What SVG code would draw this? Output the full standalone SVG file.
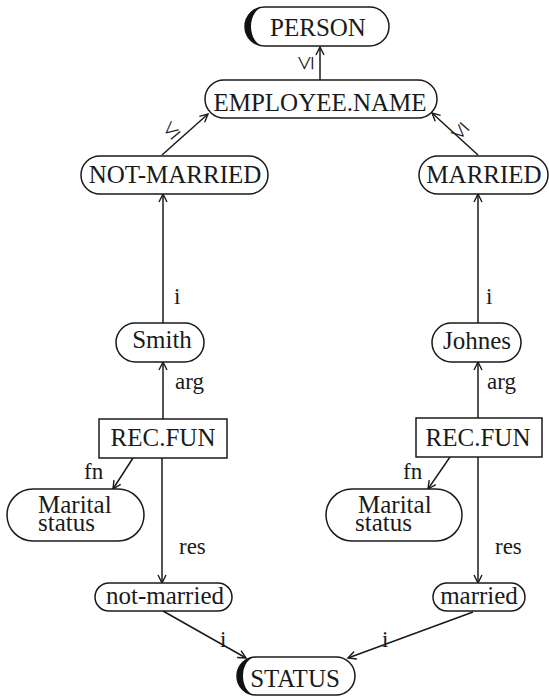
<svg xmlns="http://www.w3.org/2000/svg" width="549" height="698" viewBox="0 0 549 698" font-family="'Liberation Serif', 'Times New Roman', serif">
  <defs>
    <marker id="arr" markerUnits="userSpaceOnUse" markerWidth="12" markerHeight="12" refX="9" refY="5" orient="auto">
      <path d="M1,1 L9,5 L1,9" fill="none" stroke="#1a1a1a" stroke-width="1.4"/>
    </marker>
    <style>
      text { font-family: "Liberation Serif", "Times New Roman", serif; fill: #1a1a1a; }
      .box { fill: #fff; stroke: #1a1a1a; stroke-width: 1.5; }
      .t { font-size: 25px; }
      .c { text-anchor: middle; }
      .lab { font-size: 23px; }
      .rel { font-size: 26px; text-anchor: middle; }
      .edge { stroke: #1a1a1a; stroke-width: 1.5; fill: none; marker-end: url(#arr); }
      .cres { fill: #111; }
    </style>
  </defs>

  <!-- connectors -->
  <g id="edges">
    <line class="edge" x1="320" y1="80" x2="320" y2="47"/>
    <line class="edge" x1="162" y1="155" x2="208" y2="114"/>
    <line class="edge" x1="478" y1="155" x2="432" y2="113"/>
    <line class="edge" x1="163" y1="323" x2="163" y2="194"/>
    <line class="edge" x1="478" y1="323" x2="478" y2="194"/>
    <line class="edge" x1="163" y1="419" x2="163" y2="362"/>
    <line class="edge" x1="478" y1="418" x2="478" y2="362"/>
    <line class="edge" x1="133" y1="458" x2="113" y2="489"/>
    <line class="edge" x1="450" y1="457" x2="428" y2="489"/>
    <line class="edge" x1="162" y1="458" x2="162" y2="583"/>
    <line class="edge" x1="478" y1="457" x2="478" y2="583"/>
    <line class="edge" x1="163" y1="611" x2="246" y2="658"/>
    <line class="edge" x1="473" y1="612" x2="348" y2="658"/>

    <!-- edge labels -->
    <text class="rel" transform="translate(313,63) rotate(-90)">≤</text>
    <text class="rel" transform="translate(176,136) rotate(-40)">≤</text>
    <text class="rel" transform="translate(465,126) rotate(-138)">≤</text>
    <text class="lab" x="174" y="304">i</text>
    <text class="lab" x="486" y="304">i</text>
    <text class="lab" x="175" y="389">arg</text>
    <text class="lab" x="487" y="389">arg</text>
    <text class="lab" x="84" y="479">fn</text>
    <text class="lab" x="403" y="479">fn</text>
    <text class="lab" x="179" y="554">res</text>
    <text class="lab" x="495" y="554">res</text>
    <text class="lab" x="220" y="647">i</text>
    <text class="lab" x="382" y="647">i</text>
  </g>

  <g id="person">
    <rect class="box" x="245" y="7" width="144" height="39" rx="19.5"/>
    <path class="cres" d="M264.5,7 A19.5,19.5 0 0 0 264.5,46 A13.5,19.5 0 0 1 264.5,7 Z"/>
    <text class="t c" x="318" y="36">PERSON</text>
  </g>

  <g id="employee-name">
    <rect class="box" x="205" y="80" width="232" height="38" rx="19"/>
    <text class="t c" x="320" y="111">EMPLOYEE.NAME</text>
  </g>

  <g id="not-married-type">
    <rect class="box" x="81" y="156" width="187" height="38" rx="19"/>
    <text class="t c" x="175" y="183">NOT-MARRIED</text>
  </g>

  <g id="married-type">
    <rect class="box" x="419" y="156" width="129" height="38" rx="19"/>
    <text class="t c" x="484" y="183">MARRIED</text>
  </g>

  <g id="smith">
    <rect class="box" x="116" y="323" width="88" height="39" rx="19.5"/>
    <text class="t c" x="162" y="348">Smith</text>
  </g>

  <g id="johnes">
    <rect class="box" x="432" y="323" width="89" height="39" rx="19.5"/>
    <text class="t c" x="477" y="349">Johnes</text>
  </g>

  <g id="recfun-left">
    <rect class="box" x="99" y="419" width="128" height="39"/>
    <text class="t c" x="163" y="446">REC.FUN</text>
  </g>

  <g id="recfun-right">
    <rect class="box" x="416" y="418" width="126" height="39"/>
    <text class="t c" x="478" y="446">REC.FUN</text>
  </g>

  <g id="marital-left">
    <rect class="box" x="7" y="489" width="137" height="52" rx="26"/>
    <text class="t"><tspan x="38" y="513">Marital</tspan><tspan x="38" y="531">status</tspan></text>
  </g>

  <g id="marital-right">
    <rect class="box" x="326" y="489" width="136" height="52" rx="26"/>
    <text class="t"><tspan x="358" y="513">Marital</tspan><tspan x="355" y="531">status</tspan></text>
  </g>

  <g id="not-married-value">
    <rect class="box" x="95" y="583" width="137" height="28" rx="14"/>
    <text class="t c" x="165" y="604">not-married</text>
  </g>

  <g id="married-value">
    <rect class="box" x="433" y="583" width="92" height="28" rx="14"/>
    <text class="t c" x="479" y="604">married</text>
  </g>

  <g id="status">
    <rect class="box" x="237" y="657" width="118" height="38" rx="19"/>
    <path class="cres" d="M256,657 A19,19 0 0 0 256,695 A13,19 0 0 1 256,657 Z"/>
    <text class="t c" x="295" y="687">STATUS</text>
  </g>
</svg>
